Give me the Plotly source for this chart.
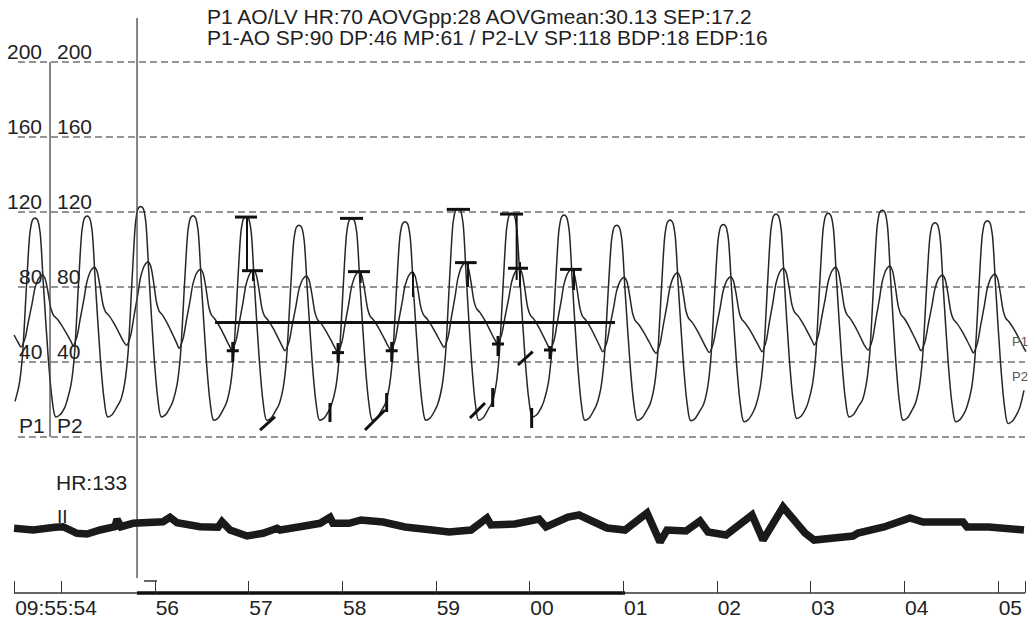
import plotly.graph_objects as go

# ---------------- scales (time in s after 09:55:00, pressure in mmHg) ----------------
x_range = [54.345, 65.320]
y_range = [-97.07, 233.07]
grid_levels = [200, 160, 120, 80, 40, 0]
grid_t = [54.537, 65.288]
tick_vals = [54.5, 55, 56, 57, 58, 59, 60, 61, 62, 63, 64, 65, 65.288]
tick_text = ["09:55:54", "", "56", "57", "58", "59", "00", "01", "02", "03", "04", "05", ""]
left_labels = ["200", "160", "120", "80", "40"]
left_levels = [200, 160, 120, 80, 40]

# ---------------- beats ----------------
beat_times = [54.154, 54.719, 55.274, 55.847, 56.406, 56.972, 57.537, 58.100, 58.669, 59.235,
              59.808, 60.367, 60.929, 61.498, 62.067, 62.630, 63.188, 63.765, 64.327, 64.886, 65.448]
lv_peak = [117, 116.8, 117.9, 123, 118, 117.5, 113, 116.6, 114.8, 121.9,
           119.3, 118.4, 113, 115.7, 113.4, 118.9, 119.3, 121, 114.3, 115.4, 117]
lv_min = [10.5, 10.8, 10.8, 10.8, 9, 9, 9, 9, 9, 9,
          10.8, 9, 9, 8.7, 8.2, 10, 10.8, 9, 8.2, 7.3, 9]
ao_peak = [88, 86.4, 90.5, 93.5, 89.5, 89, 85.9, 88.2, 88, 93,
           90, 89.4, 85.2, 87.6, 85.5, 90, 90.5, 91.2, 86.4, 86.9, 88]
ao_min = [48, 48, 48.7, 48.9, 47.3, 46.4, 46, 45.1, 46.4, 47.8,
          50, 46.4, 45.5, 44.6, 45.1, 45.5, 49, 46.4, 46, 44.8, 45.5]

# beat shape read from one cycle (offset from LV peak in s, fraction of beat range)
lv_shape_dt = [-0.2135, -0.1708, -0.1356, -0.0886, -0.0534, -0.0267, 0.0, 0.0267, 0.0534,
               0.0886, 0.1420, 0.1815, 0.2189, 0.2669, 0.3203]
lv_shape_frac = [0.08, 0.16, 0.30, 0.68, 0.93, 0.99, 1.0, 0.99, 0.93,
                 0.67, 0.29, 0.09, 0.0, 0.01, 0.05]
ao_shape_dt = [-0.1495, -0.1068, -0.0715, -0.0320, 0.0, 0.0427, 0.0801, 0.1068, 0.1356,
               0.1708, 0.1975, 0.2349, 0.2882, 0.3416, 0.3843]
ao_shape_frac = [0.0, 0.12, 0.35, 0.6, 0.82, 0.96, 1.0, 0.95, 0.78,
                 0.52, 0.43, 0.38, 0.28, 0.16, 0.06]
ao_peak_dt = 0.0801
trace_span = [54.49, 65.30]

# ---------------- measurement marks ----------------
mean_line_t = [56.641, 60.911]
mean_pressure = 61
lv_sp_bars = [(56.854, 57.089, 117.3), (57.975, 58.221, 116.6), (59.114, 59.363, 121.4), (59.683, 59.929, 118.9)]
ao_sp_bars = [(56.929, 57.153, 88.7), (58.060, 58.295, 88.2), (59.203, 59.434, 93.0),
              (59.769, 59.982, 90.0), (60.324, 60.556, 89.4)]
stems = [(56.982, 117.3, 88.5), (57.046, 88.5, 83.2), (58.196, 88.2, 82.1), (58.754, 88.0, 74.7),
         (59.341, 93.0, 80.0), (59.861, 118.4, 83.7), (59.897, 93.3, 80.0), (60.473, 89.0, 78.4)]
dp_crosses = [(56.830, 46.0, 50.7, 40.0), (57.954, 45.0, 50.1, 39.5), (58.527, 46.0, 50.7, 40.0),
              (59.662, 49.6, 53.9, 43.2), (60.217, 46.4, 48.5, 41.6)]
dp_half = 0.064
edp_marks = [(57.121, 3.7, 57.281, 10.8), (57.868, 18.1, 57.868, 8.0), (58.242, 3.7, 58.455, 14.4),
             (58.473, 23.5, 58.473, 13.3), (59.363, 10.1, 59.523, 18.1), (59.605, 26.1, 59.605, 16.0),
             (60.021, 15.5, 60.021, 4.8), (59.875, 38.4, 60.032, 45.5)]

# ---------------- ECG / HR channel ----------------
hr_t = [54.495, 54.698, 54.932, 55.018, 55.167, 55.274, 55.413, 55.573, 55.594, 55.637, 55.765, 55.947,
        56.085, 56.160, 56.235, 56.480, 56.673, 56.715, 56.801, 56.982, 57.153, 57.303, 57.335, 57.548,
        57.762, 57.868, 57.900, 58.071, 58.199, 58.434, 58.669, 58.957, 59.139, 59.374, 59.544, 59.587,
        59.843, 60.100, 60.174, 60.409, 60.527, 60.687, 60.826, 61.018, 61.253, 61.391, 61.466, 61.669,
        61.818, 61.904, 62.096, 62.374, 62.491, 62.705, 62.939, 63.036, 63.270, 63.452, 63.505, 63.783,
        64.060, 64.199, 64.626, 64.669, 64.904, 65.277]
hr_level = [1.7, 0, 2.7, 3.3, -3.3, -4, 0, 3.3, 10.7, 3.3, 6.7, 7.3,
            8.3, 12.7, 7.3, 3.3, 2.7, 8.3, 0, -6, -3.3, 1.7, 0, 3.3,
            6.7, 12.7, 6.7, 6.7, 10, 8, 3, 0, -2, 0, 12, 5,
            6, 11, 3, 13, 15, 8, 2, 0, 17, -12, 0, -1,
            9, -2, -5, 15, -10, 23, -3, -10, -7, -6, -3, 3,
            12, 8, 8, 3, 3, 0]
hr_range = [-89, 530]

# ---------------- fixed lines ----------------
channel_divider_t = 54.879
cursor_t = 55.808
cursor_p = [223.5, -75.2]
axis_p = -83.2
axis_t = [54.495, 65.288]
selection_t = [55.808, 61.018]

FONT = "Arial, Liberation Sans, sans-serif"
INK = "#262626"

# ---------------- build waveforms ----------------
n = len(beat_times)
lv_pts, ao_pts = [], []
for i, tb in enumerate(beat_times):
    for dt, f in zip(lv_shape_dt, lv_shape_frac):
        base = lv_min[i - 1] if (dt < 0 and i > 0) else lv_min[i]
        lv_pts.append((tb + dt, base + f * (lv_peak[i] - base)))
    for dt, f in zip(ao_shape_dt, ao_shape_frac):
        base = ao_min[i + 1] if (dt > ao_peak_dt and i + 1 < n) else ao_min[i]
        ao_pts.append((tb + dt, base + f * (ao_peak[i] - base)))
lv_pts = sorted(p for p in lv_pts if trace_span[0] <= p[0] <= trace_span[1])
ao_pts = sorted(p for p in ao_pts if trace_span[0] <= p[0] <= trace_span[1])

fig = go.Figure()

# dashed grid
for lvl in grid_levels:
    fig.add_trace(go.Scatter(x=grid_t, y=[lvl, lvl], mode="lines",
                             line=dict(color="#2a2a2a", width=1.2, dash="7px,4px"), hoverinfo="skip"))

fig.add_trace(go.Scatter(x=[p[0] for p in ao_pts], y=[p[1] for p in ao_pts], mode="lines",
                         line=dict(color=INK, width=1.5, shape="spline", smoothing=0.8), name="P1 AO"))
fig.add_trace(go.Scatter(x=[p[0] for p in lv_pts], y=[p[1] for p in lv_pts], mode="lines",
                         line=dict(color=INK, width=1.5, shape="spline", smoothing=0.8), name="P2 LV"))

# measurement marks
fig.add_trace(go.Scatter(x=mean_line_t, y=[mean_pressure, mean_pressure], mode="lines",
                         line=dict(color="#111", width=3)))
mx, my = [], []
for t0, t1, p in lv_sp_bars + ao_sp_bars:
    mx += [t0, t1, None]; my += [p, p, None]
for t, p, p0, p1 in dp_crosses:
    mx += [t - dp_half, t + dp_half, None, t, t, None]; my += [p, p, None, p0, p1, None]
for t0, p0, t1, p1 in edp_marks:
    mx += [t0, t1, None]; my += [p0, p1, None]
fig.add_trace(go.Scatter(x=mx, y=my, mode="lines", line=dict(color="#111", width=3)))
sx, sy = [], []
for t, p0, p1 in stems:
    sx += [t, t, None]; sy += [p0, p1, None]
fig.add_trace(go.Scatter(x=sx, y=sy, mode="lines", line=dict(color="#111", width=2)))

# fixed vertical lines
fig.add_trace(go.Scatter(x=[channel_divider_t, channel_divider_t], y=[0, 200], mode="lines",
                         line=dict(color="#444", width=1.3)))
fig.add_trace(go.Scatter(x=[cursor_t, cursor_t], y=cursor_p, mode="lines",
                         line=dict(color="#444", width=1.3)))
fig.add_trace(go.Scatter(x=[55.883, 56.021], y=[-76.8, -76.8], mode="lines",
                         line=dict(color="#333", width=1.5)))

# time axis base + selected period
fig.add_trace(go.Scatter(x=axis_t, y=[axis_p, axis_p], mode="lines", line=dict(color="#333", width=1.3)))
fig.add_trace(go.Scatter(x=selection_t, y=[axis_p, axis_p], mode="lines", line=dict(color="#111", width=3.5)))

# HR / ECG channel
fig.add_trace(go.Scatter(x=hr_t, y=hr_level, yaxis="y2", mode="lines",
                         line=dict(color="#1a1a1a", width=7.5)))

ann = []
big = dict(family=FONT, size=21, color="#222")
for lab, lvl in zip(left_labels, left_levels):
    ann.append(dict(x=54.815, y=lvl + 5.5, xref="x", yref="y", text=lab, showarrow=False,
                    xanchor="right", yanchor="middle", font=big))
    ann.append(dict(x=54.932, y=lvl + 5.5, xref="x", yref="y", text=lab, showarrow=False,
                    xanchor="left", yanchor="middle", font=big))
ann.append(dict(x=54.527, y=5.9, xref="x", yref="y", text="P1", showarrow=False,
                xanchor="left", yanchor="middle", font=big))
ann.append(dict(x=54.932, y=5.9, xref="x", yref="y", text="P2", showarrow=False,
                xanchor="left", yanchor="middle", font=big))
ann.append(dict(x=65.128, y=50.7, xref="x", yref="y", text="P1", showarrow=False,
                xanchor="left", yanchor="middle", font=dict(family=FONT, size=13, color="#555")))
ann.append(dict(x=65.128, y=32.5, xref="x", yref="y", text="P2", showarrow=False,
                xanchor="left", yanchor="middle", font=dict(family=FONT, size=13, color="#555")))
ann.append(dict(x=56.534, y=1 - 16 / 619, xref="x", yref="paper",
                text="P1 AO/LV HR:70 AOVGpp:28 AOVGmean:30.13 SEP:17.2", showarrow=False,
                xanchor="left", yanchor="middle", font=big))
ann.append(dict(x=56.534, y=1 - 38 / 619, xref="x", yref="paper",
                text="P1-AO SP:90 DP:46 MP:61 / P2-LV SP:118 BDP:18 EDP:16", showarrow=False,
                xanchor="left", yanchor="middle", font=big))
ann.append(dict(x=54.922, y=1 - 482 / 619, xref="x", yref="paper", text="HR:133", showarrow=False,
                xanchor="left", yanchor="middle", font=big))
ann.append(dict(x=54.932, y=1 - 516 / 619, xref="x", yref="paper", text="II", showarrow=False,
                xanchor="left", yanchor="middle", font=dict(family=FONT, size=19, color="#222")))

fig.update_layout(
    width=1028, height=619, margin=dict(l=0, r=0, t=0, b=0),
    paper_bgcolor="white", plot_bgcolor="white", showlegend=False,
    annotations=ann,
    xaxis=dict(range=x_range, showgrid=False, zeroline=False, showline=False,
               tickvals=tick_vals, ticktext=tick_text, ticks="inside", ticklen=12, tickwidth=1.3,
               tickcolor="#333", ticklabelposition="outside right",
               tickfont=dict(family=FONT, size=21, color="#222"),
               anchor="free", position=1 - 593 / 619),
    yaxis=dict(range=y_range, visible=False),
    yaxis2=dict(range=hr_range, visible=False, overlaying="y"),
)

fig.write_html("out.html", config={"displayModeBar": False},
               post_script="document.body.style.margin='0';document.body.style.overflow='hidden';")
